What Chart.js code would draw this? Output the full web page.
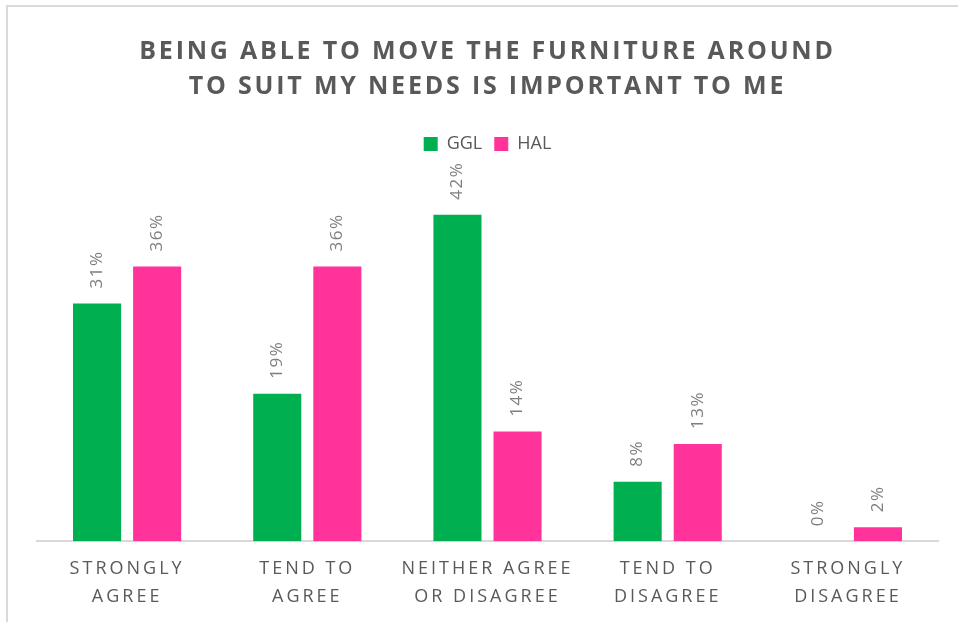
<!DOCTYPE html>
<html>
<head>
<meta charset="utf-8">
<script src="https://cdn.jsdelivr.net/npm/chart.js@4/dist/chart.umd.min.js"></script>
<style>
  html, body { margin: 0; padding: 0; background: #fff; }
  #wrap { width: 958px; height: 622px; }
</style>
</head>
<body>
<div id="wrap"><canvas id="furnitureChart" width="958" height="622"></canvas></div>
<script>
// data
const categories = [
    ['STRONGLY', 'AGREE'],
    ['TEND TO', 'AGREE'],
    ['NEITHER AGREE', 'OR DISAGREE'],
    ['TEND TO', 'DISAGREE'],
    ['STRONGLY', 'DISAGREE']
];
const gglValues = [30.8, 19.1, 42.3, 7.7, 0];
const halValues = [35.6, 35.6, 14.2, 12.6, 1.8];
const titleLines = ['BEING ABLE TO MOVE THE FURNITURE AROUND', 'TO SUIT MY NEEDS IS IMPORTANT TO ME'];

// wrap a draw method so its text gets letter spacing
function spaced(obj, method, chart, px) {
    if (!obj || obj['_sp_' + method]) return;
    const orig = obj[method].bind(obj);
    obj[method] = function () {
        const c = chart.ctx;
        const prev = c.letterSpacing;
        c.letterSpacing = px;
        orig.apply(null, arguments);
        c.letterSpacing = prev;
    };
    obj['_sp_' + method] = true;
}

const extras = {
    id: 'extras',
    beforeDraw(chart) {
        const c = chart.ctx;
        spaced(chart.titleBlock, 'draw', chart, '2.8px');
        spaced(chart.scales.x, 'drawLabels', chart, '3px');
        // outer frame, only left and top show in the picture
        c.save();
        c.strokeStyle = '#d9d9d9';
        c.lineWidth = 2;
        c.beginPath();
        c.moveTo(7, 622);
        c.lineTo(7, 6);
        c.lineTo(958, 6);
        c.stroke();
        c.restore();
    },
    afterDatasetsDraw(chart) {
        const c = chart.ctx;
        c.save();
        c.font = '17px "Open Sans"';
        c.fillStyle = '#7f7f7f';
        c.letterSpacing = '1.5px';
        c.textAlign = 'left';
        c.textBaseline = 'middle';
        chart.data.datasets.forEach((ds, i) => {
            chart.getDatasetMeta(i).data.forEach((bar, j) => {
                const txt = Math.round(ds.data[j]) + '%';
                c.save();
                c.translate(bar.x, bar.y - 15);
                c.rotate(-Math.PI / 2);
                c.fillText(txt, 0, 0);
                c.restore();
            });
        });
        c.restore();
    }
};

const ctx = document.getElementById('furnitureChart').getContext('2d');

const furnitureChart = new Chart(ctx, {
    type: 'bar',
    data: {
        labels: categories,
        datasets: [{
            label: 'GGL',
            data: gglValues,
            backgroundColor: '#00b050',
            categoryPercentage: 0.667,
            barPercentage: 0.8
        }, {
            label: 'HAL',
            data: halValues,
            backgroundColor: '#ff3399',
            categoryPercentage: 0.667,
            barPercentage: 0.8
        }]
    },
    options: {
        responsive: false,
        animation: false,
        layout: {
            padding: { left: 37, right: 20, top: 34, bottom: -3 }
        },
        plugins: {
            title: {
                display: true,
                text: titleLines,
                color: '#595959',
                font: { family: 'Open Sans', size: 25, weight: 'bold', lineHeight: 1.4 },
                padding: { top: 0, bottom: 19 }
            },
            legend: {
                labels: {
                    color: '#595959',
                    font: { family: 'Open Sans', size: 18 },
                    boxWidth: 14,
                    boxHeight: 14,
                    padding: 12
                }
            },
            tooltip: { enabled: false }
        },
        scales: {
            x: {
                grid: { display: false, drawTicks: false },
                border: { color: '#d9d9d9', width: 2 },
                ticks: {
                    color: '#595959',
                    font: { family: 'Open Sans', size: 18, lineHeight: 1.55 },
                    padding: 14,
                    maxRotation: 0,
                    autoSkip: false
                }
            },
            y: {
                display: false,
                min: 0,
                max: 49
            }
        }
    },
    plugins: [extras]
});
</script>
</body>
</html>
